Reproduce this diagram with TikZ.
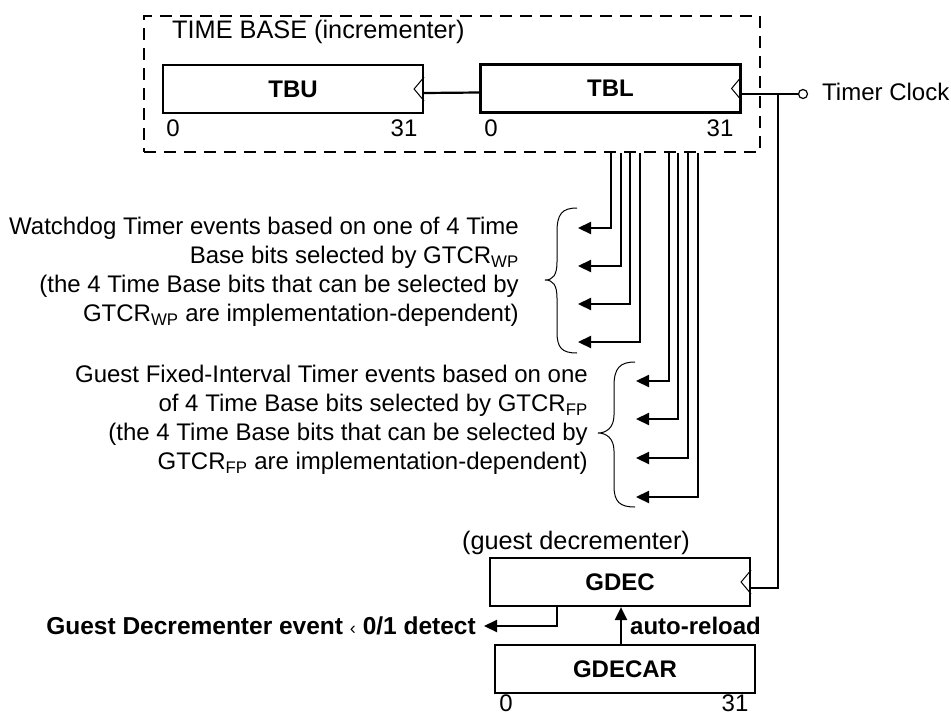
\documentclass[tikz,border=0pt]{standalone}
\usepackage{fontspec}
\setmainfont{Liberation Sans}
\usetikzlibrary{arrows.meta}
\begin{document}
\begin{tikzpicture}[x=1pt,y=-1pt,
  every node/.style={font=\fontsize{24}{29}\selectfont, inner sep=0pt},
  reg/.style={draw, line width=2.2pt, minimum width=260pt, minimum height=48pt, font=\fontsize{24}{29}\selectfont\bfseries},
  conn/.style={line width=2.2pt},
  arr/.style={line width=2.2pt, -{Triangle[length=13pt,width=12pt]}},
  brc/.style={line width=1pt},
  bitnum/.style={font=\fontsize{24}{29}\selectfont},
  biglabel/.style={font=\fontsize{25.3}{29}\selectfont}
]
\useasboundingbox (0,0) rectangle (951,715);

% time base group
\node[draw, line width=2.5pt, dash pattern=on 12pt off 8pt, minimum width=616pt, minimum height=136pt] (tb) at (452,84) {};
\node[anchor=west, biglabel] (tblabel) at (172,32) {TIME BASE (incrementer)};

\node[reg] (tbu) at (293,89) {TBU};
\node[reg] (tbl) at (610.5,88.5) {TBL};

\node[bitnum] (tbu0) at (173,128) {0};
\node[bitnum] (tbu31) at (404,128) {31};
\node[bitnum] (tbl0) at (491,128) {0};
\node[bitnum] (tbl31) at (720,128) {31};

% clock notches
\draw[line width=1pt] ([yshift=12pt]tbu.east) -- ++(-10,12) -- ++(10,12);
\draw[line width=1pt] ([yshift=12pt]tbl.east) -- ++(-10,12) -- ++(10,12);

\draw[conn] ([yshift=-4pt]tbu.east) -- ([yshift=-4pt]tbl.west);

% timer clock
\node[circle, draw, line width=1.2pt, minimum size=9pt] (clk) at (803,94) {};
\node[anchor=west] (clktext) at (822,92) {Timer Clock};
\draw[conn] ([yshift=-5.5pt]tbl.east) -- (clk.west);

% guest decrementer
\node[reg] (gdec) at (620,582) {GDEC};
\node[biglabel] (gdlabel) at (576,543) {(guest decrementer)};
\draw[line width=1pt] ([yshift=12pt]gdec.east) -- ++(-10,12) -- ++(10,12);
\coordinate (tap) at (778,94);
\draw[conn] (tap) |- ([yshift=-6pt]gdec.east);

\node[reg] (gdecar) at (625,669) {GDECAR};
\node[bitnum] (gdecar0) at (506,703) {0};
\node[bitnum] (gdecar31) at (735,703) {31};

\coordinate (ar) at (621,645);
\draw[arr] (ar) -- (ar |- gdec.south);
\node[anchor=west, font=\fontsize{24}{29}\selectfont\bfseries] (arlabel) at (630,626) {auto-reload};

\coordinate (ev) at (484,626);
\draw[arr] ([xshift=-63pt]gdec.south) |- (ev);
\node[anchor=east, font=\fontsize{24.5}{29}\selectfont\bfseries] (evtext) at (476,626) {Guest Decrementer event {\mdseries\fontsize{18}{20}\selectfont‹} 0/1 detect};

% bit taps: watchdog
\foreach \dx/\y [count=\i] in {159/228, 169/266, 178/304, 188/342} {
  \coordinate (w\i) at (578,\y);
  \draw[arr] ([xshift=\dx pt]tb.south) |- (w\i);
}
% bit taps: fixed interval
\foreach \dx/\y [count=\i] in {217/381, 226/419, 236/458, 246/497} {
  \coordinate (f\i) at (636,\y);
  \draw[arr] ([xshift=\dx pt]tb.south) |- (f\i);
}

% braces
\draw[brc] (577,208) .. controls (562,208) and (557,214) .. (557,232) -- (557,262)
  .. controls (557,275) and (553,280) .. (545,280)
  .. controls (553,280) and (557,285) .. (557,298) -- (557,332)
  .. controls (557,348) and (562,353) .. (577,353);
\draw[brc] (635,362) .. controls (620,362) and (614,368) .. (614,386) -- (614,415)
  .. controls (614,428) and (606,433) .. (598,433)
  .. controls (606,433) and (614,438) .. (614,451) -- (614,486)
  .. controls (614,502) and (620,507) .. (635,507);

% texts
\node[anchor=east, align=right] (wdtext) at (519,272) {Watchdog Timer events based on one of 4 Time\\Base bits selected by GTCR\textsubscript{WP}\\(the 4 Time Base bits that can be selected by\\GTCR\textsubscript{WP} are implementation-dependent)};
\node[anchor=east, align=right] (fitext) at (588,420) {Guest Fixed-Interval Timer events based on one\\of 4 Time Base bits selected by GTCR\textsubscript{FP}\\(the 4 Time Base bits that can be selected by\\GTCR\textsubscript{FP} are implementation-dependent)};
\end{tikzpicture}
\end{document}
